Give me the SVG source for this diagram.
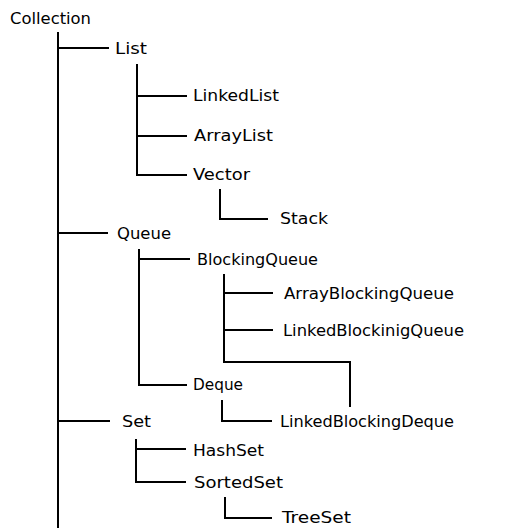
<svg xmlns="http://www.w3.org/2000/svg" width="513" height="528" viewBox="0 0 513 528">
<style>
.c line, .c polyline { stroke: #000; stroke-width: 2; fill: none; }
text { font-family: "DejaVu Sans", "Liberation Sans", sans-serif; font-size: 16px; fill: #000; }
</style>
<rect width="513" height="528" fill="#fff"/>
<g class="c" id="connectors">
  <line x1="58" y1="32" x2="58" y2="528"/>
  <line x1="58" y1="48" x2="109" y2="48"/>
  <line x1="58" y1="233" x2="108" y2="233"/>
  <line x1="58" y1="421" x2="110" y2="421"/>
  <polyline points="137,64 137,175 187,175"/>
  <line x1="137" y1="96" x2="187" y2="96"/>
  <line x1="137" y1="136" x2="187" y2="136"/>
  <polyline points="220,189 220,219 268,219"/>
  <polyline points="139,249 139,385 187,385"/>
  <line x1="139" y1="259" x2="190" y2="259"/>
  <line x1="224" y1="274" x2="224" y2="362"/>
  <line x1="224" y1="293" x2="273" y2="293"/>
  <line x1="224" y1="330" x2="273" y2="330"/>
  <polyline points="223,362 350,362 350,407"/>
  <polyline points="222,400 222,421 272,421"/>
  <polyline points="136,439 136,482 186,482"/>
  <line x1="136" y1="449" x2="186" y2="449"/>
  <polyline points="225,497 225,518 272,518"/>
</g>
<g id="n-collection"><text x="10" y="24" textLength="81" lengthAdjust="spacingAndGlyphs">Collection</text></g>
<g id="n-list"><text x="115" y="54" textLength="32" lengthAdjust="spacingAndGlyphs">List</text></g>
<g id="n-linkedlist"><text x="193" y="101" textLength="86" lengthAdjust="spacingAndGlyphs">LinkedList</text></g>
<g id="n-arraylist"><text x="194" y="141" textLength="79" lengthAdjust="spacingAndGlyphs">ArrayList</text></g>
<g id="n-vector"><text x="193" y="180" textLength="57" lengthAdjust="spacingAndGlyphs">Vector</text></g>
<g id="n-stack"><text x="280" y="224" textLength="48" lengthAdjust="spacingAndGlyphs">Stack</text></g>
<g id="n-queue"><text x="117" y="239" textLength="54" lengthAdjust="spacingAndGlyphs">Queue</text></g>
<g id="n-blockingqueue"><text x="197" y="265" textLength="121" lengthAdjust="spacingAndGlyphs">BlockingQueue</text></g>
<g id="n-arrayblockingqueue"><text x="284" y="299" textLength="170" lengthAdjust="spacingAndGlyphs">ArrayBlockingQueue</text></g>
<g id="n-linkedblockinigqueue"><text x="283" y="336" textLength="181" lengthAdjust="spacingAndGlyphs">LinkedBlockinigQueue</text></g>
<g id="n-deque"><text x="193" y="390" textLength="50" lengthAdjust="spacingAndGlyphs">Deque</text></g>
<g id="n-linkedblockingdeque"><text x="280" y="427" textLength="174" lengthAdjust="spacingAndGlyphs">LinkedBlockingDeque</text></g>
<g id="n-set"><text x="122" y="427" textLength="29" lengthAdjust="spacingAndGlyphs">Set</text></g>
<g id="n-hashset"><text x="193" y="456" textLength="71" lengthAdjust="spacingAndGlyphs">HashSet</text></g>
<g id="n-sortedset"><text x="194" y="488" textLength="89" lengthAdjust="spacingAndGlyphs">SortedSet</text></g>
<g id="n-treeset"><text x="282" y="523" textLength="69" lengthAdjust="spacingAndGlyphs">TreeSet</text></g>
</svg>
